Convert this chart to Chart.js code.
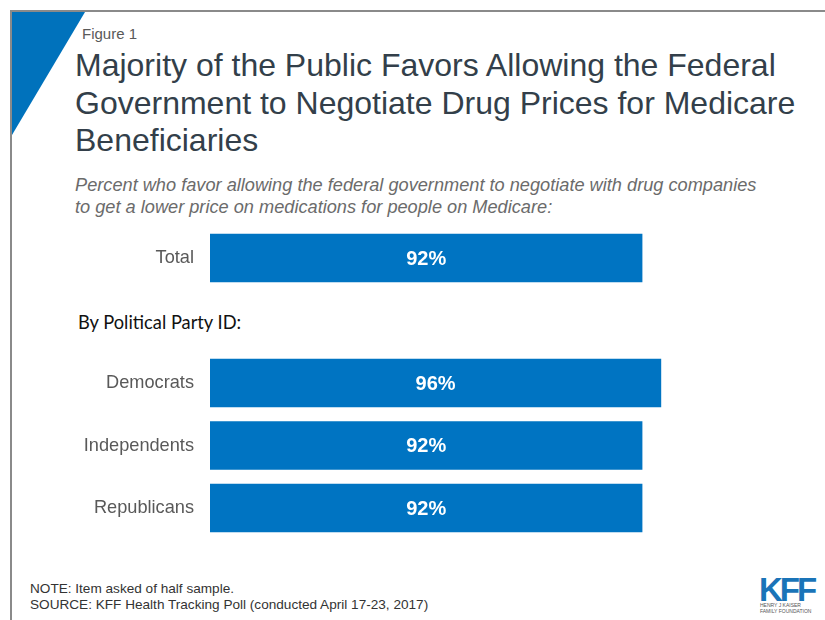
<!DOCTYPE html>
<html><head><meta charset="utf-8">
<script src="https://cdn.jsdelivr.net/npm/chart.js@4.4.1/dist/chart.umd.min.js"></script>
<style>
html,body{margin:0;padding:0;background:#fff;}
#wrap{position:relative;width:825px;height:620px;overflow:hidden;font-family:"Liberation Sans",Arial,sans-serif;}
#frameTop{position:absolute;left:10px;top:10px;width:815px;height:2px;background:#8a8a8a;}
#frameLeft{position:absolute;left:10px;top:10px;width:2px;height:610px;background:#8a8a8a;}
#tri{position:absolute;left:12px;top:12px;width:73px;height:123px;background:#0072BC;clip-path:polygon(0 0,100% 0,0 100%);}
.t{position:absolute;white-space:nowrap;}
#fig{left:82px;top:25px;font-size:15px;color:#595959;}
#title{left:75px;top:47px;font-size:32px;line-height:37.5px;color:#333F4A;}
#sub{left:75px;top:174px;font-size:18.2px;line-height:22px;color:#6b6b6b;font-style:italic;}
#party{left:78px;top:311px;font-size:18.3px;color:#111;font-family:Lato,"Open Sans",sans-serif;}
#note{left:30px;top:581px;font-size:13.6px;line-height:16px;color:#333;}
#logo{position:absolute;left:759px;top:576px;width:60px;height:40px;}
#logo .k{position:absolute;left:0;top:-5px;font-size:33px;font-weight:bold;color:#1a74b8;letter-spacing:-3px;font-family:"Liberation Sans",Arial;}
#logo .s{position:absolute;left:1px;top:26px;font-size:5px;line-height:6px;color:#555;}
canvas{position:absolute;left:0;top:0;}
</style></head>
<body><div id="wrap">
<div id="frameTop"></div><div id="frameLeft"></div><div id="tri"></div>
<div class="t" id="fig">Figure 1</div>
<div class="t" id="title">Majority of the Public Favors Allowing the Federal<br>Government to Negotiate Drug Prices for Medicare<br>Beneficiaries</div>
<div class="t" id="sub">Percent who favor allowing the federal government to negotiate with drug companies<br>to get a lower price on medications for people on Medicare:</div>
<div class="t" id="party">By Political Party ID:</div>
<div class="t" id="note">NOTE: Item asked of half sample.<br>SOURCE: KFF Health Tracking Poll (conducted April 17-23, 2017)</div>
<div id="logo"><div class="k">KFF</div><div class="s">HENRY J KAISER<br>FAMILY FOUNDATION</div></div>
<canvas id="c" width="825" height="620"></canvas>
</div>
<script>
const categories = ["Total", "", "Democrats", "Independents", "Republicans"];
const favorValues = [92, null, 96, 92, 92];
const valueLabels = ["92%", "", "96%", "92%", "92%"];

const barLabelPlugin = {
  id: 'barLabels',
  afterDatasetsDraw(chart) {
    const ctx = chart.ctx;
    const meta = chart.getDatasetMeta(0);
    ctx.save();
    ctx.fillStyle = '#ffffff';
    ctx.font = 'bold 20px "Liberation Sans", Arial, sans-serif';
    ctx.textAlign = 'center';
    ctx.textBaseline = 'middle';
    meta.data.forEach((bar, i) => {
      if (favorValues[i] == null) return;
      const x0 = chart.scales.x.getPixelForValue(0);
      ctx.fillText(valueLabels[i], (x0 + bar.x) / 2, bar.y + 1);
    });
    ctx.restore();
  }
};

new Chart(document.getElementById('c'), {
  type: 'bar',
  data: {
    labels: categories,
    datasets: [{
      data: favorValues,
      backgroundColor: '#0074C2',
      borderWidth: 0,
      barPercentage: 0.86,
      categoryPercentage: 0.9
    }]
  },
  options: {
    indexAxis: 'y',
    responsive: false,
    animation: false,
    layout: { padding: { left: 0, right: 145, top: 226.75, bottom: 80.75 } },
    plugins: { legend: { display: false }, tooltip: { enabled: false } },
    scales: {
      x: { display: false, min: 0, max: 100 },
      y: {
        grid: { display: false, drawTicks: false },
        border: { display: false },
        ticks: { color: '#595959', padding: 16, font: { size: 18.2, family: '"Liberation Sans", Arial, sans-serif' } },
        afterFit(scale) { scale.width = 210; }
      }
    }
  },
  plugins: [barLabelPlugin]
});
</script>
</body></html>
